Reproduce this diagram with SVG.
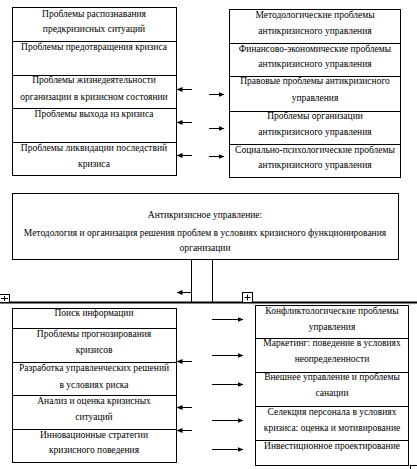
<svg xmlns="http://www.w3.org/2000/svg" width="417" height="469" viewBox="0 0 417 469">
<style>
  .box{fill:#fff;stroke:#000;stroke-width:1}
  .t{font-family:"Liberation Serif","Times New Roman",serif;font-size:9.5px;fill:#000;text-anchor:middle}
  .ln{stroke:#000;stroke-width:1;fill:none}
  .arr{stroke:#000;stroke-width:1;fill:none;marker-end:url(#ah)}
  .thick{stroke:#000;stroke-width:2.2;fill:none}
</style>
<defs>
  <marker id="ah" markerWidth="6" markerHeight="5" refX="5.5" refY="2.5" orient="auto" markerUnits="userSpaceOnUse">
    <path d="M0,0 L6,2.5 L0,5 Z" fill="#000"/>
  </marker>
</defs>
<rect width="417" height="469" fill="#fff"/>

<!-- top-left table -->
<g id="tl1"><rect class="box" x="12.5" y="7.5" width="164" height="34"/><text class="t" x="94" y="17">Проблемы распознавания</text><text class="t" x="94" y="32">предкризисных ситуаций</text></g>
<g id="tl2"><rect class="box" x="12.5" y="41.5" width="164" height="34"/><text class="t" x="94" y="50">Проблемы предотвращения кризиса</text></g>
<g id="tl3"><rect class="box" x="12.5" y="75.5" width="164" height="33"/><text class="t" x="94" y="83">Проблемы жизнедеятельности</text><text class="t" x="94" y="100">организации в кризисном состоянии</text></g>
<g id="tl4"><rect class="box" x="12.5" y="108.5" width="164" height="34"/><text class="t" x="94" y="117">Проблемы выхода из кризиса</text></g>
<g id="tl5"><rect class="box" x="12.5" y="142.5" width="164" height="33"/><text class="t" x="94" y="151">Проблемы ликвидации последствий</text><text class="t" x="94" y="167">кризиса</text></g>

<!-- top-right table -->
<g id="tr1"><rect class="box" x="229.5" y="9.5" width="171" height="34"/><text class="t" x="315" y="18">Методологические проблемы</text><text class="t" x="315" y="34">антикризисного управления</text></g>
<g id="tr2"><rect class="box" x="229.5" y="43.5" width="171" height="33"/><text class="t" x="315" y="52">Финансово-экономические проблемы</text><text class="t" x="315" y="67">антикризисного управления</text></g>
<g id="tr3"><rect class="box" x="229.5" y="76.5" width="171" height="35"/><text class="t" x="315" y="84">Правовые проблемы антикризисного</text><text class="t" x="315" y="101">управления</text></g>
<g id="tr4"><rect class="box" x="229.5" y="111.5" width="171" height="33"/><text class="t" x="315" y="119">Проблемы организации</text><text class="t" x="315" y="135">антикризисного управления</text></g>
<g id="tr5"><rect class="box" x="229.5" y="144.5" width="171" height="33"/><text class="t" x="315" y="153">Социально-психологические проблемы</text><text class="t" x="315" y="168">антикризисного управления</text></g>

<!-- middle box -->
<g id="center"><rect class="box" x="12.5" y="193.5" width="386" height="66"/>
<text class="t" x="205" y="218">Антикризисное управление:</text>
<text class="t" x="205" y="236">Методология и организация решения проблем в условиях кризисного функционирования</text>
<text class="t" x="205" y="251">организации</text></g>

<!-- bottom-left table -->
<g id="bl1"><rect class="box" x="12.5" y="308.5" width="164" height="20"/><text class="t" x="94" y="316">Поиск информации</text></g>
<g id="bl2"><rect class="box" x="12.5" y="328.5" width="164" height="34"/><text class="t" x="94" y="337">Проблемы прогнозирования</text><text class="t" x="94" y="353">кризисов</text></g>
<g id="bl3"><rect class="box" x="12.5" y="362.5" width="164" height="33"/><text class="t" x="94" y="371">Разработка управленческих решений</text><text class="t" x="94" y="388">в условиях риска</text></g>
<g id="bl4"><rect class="box" x="12.5" y="395.5" width="164" height="34"/><text class="t" x="94" y="404">Анализ и оценка кризисных</text><text class="t" x="94" y="420">ситуаций</text></g>
<g id="bl5"><rect class="box" x="12.5" y="429.5" width="164" height="33"/><text class="t" x="94" y="438">Инновационные стратегии</text><text class="t" x="94" y="453">кризисного поведения</text></g>

<!-- bottom-right table -->
<g id="br1"><rect class="box" x="255.5" y="305.5" width="153" height="33"/><text class="t" x="332" y="314">Конфликтологические проблемы</text><text class="t" x="332" y="330">управления</text></g>
<g id="br2"><rect class="box" x="255.5" y="338.5" width="153" height="34"/><text class="t" x="332" y="346">Маркетинг: поведение в условиях</text><text class="t" x="332" y="362">неопределенности</text></g>
<g id="br3"><rect class="box" x="255.5" y="372.5" width="153" height="34"/><text class="t" x="332" y="380">Внешнее управление и проблемы</text><text class="t" x="332" y="396">санации</text></g>
<g id="br4"><rect class="box" x="255.5" y="406.5" width="153" height="34"/><text class="t" x="332" y="415">Селекция персонала в условиях</text><text class="t" x="332" y="431">кризиса: оценка и мотивирование</text></g>
<g id="br5"><rect class="box" x="255.5" y="440.5" width="153" height="25"/><text class="t" x="332" y="449">Инвестиционное проектирование</text></g>

<!-- connectors -->
<g id="connectors">
  <line class="arr" x1="192" y1="89.5" x2="177" y2="89.5"/>
  <line class="arr" x1="192" y1="122.5" x2="177" y2="122.5"/>
  <line class="arr" x1="192" y1="155.5" x2="177" y2="155.5"/>
  <line class="arr" x1="209" y1="94.5" x2="224" y2="94.5"/>
  <line class="arr" x1="209" y1="128.5" x2="224" y2="128.5"/>
  <line class="arr" x1="209" y1="156.5" x2="224" y2="156.5"/>

  <line class="ln" x1="191.5" y1="259.5" x2="191.5" y2="302"/>
  <line class="ln" x1="212.5" y1="259.5" x2="212.5" y2="302"/>
  <line class="arr" x1="191" y1="292.5" x2="177" y2="292.5"/>
  <line class="thick" x1="0" y1="302.5" x2="417" y2="302.5"/>

  <line class="arr" x1="192" y1="361.5" x2="177" y2="361.5"/>
  <line class="arr" x1="192" y1="407.5" x2="177" y2="407.5"/>
  <line class="arr" x1="192" y1="430.5" x2="177" y2="430.5"/>
  <line class="arr" x1="212" y1="319.5" x2="243" y2="319.5"/>
  <line class="arr" x1="212" y1="355.5" x2="243" y2="355.5"/>
  <line class="arr" x1="212" y1="384.5" x2="243" y2="384.5"/>
  <line class="arr" x1="212" y1="420.5" x2="243" y2="420.5"/>
  <line class="arr" x1="212" y1="449.5" x2="243" y2="449.5"/>
</g>

<!-- table handles -->
<g id="handles" stroke="#000" stroke-width="1" fill="#fff">
  <rect x="-1.5" y="294.5" width="11" height="8"/>
  <path d="M1,298.5 H8 M4.5,296 V301" fill="none"/>
  <rect x="242.5" y="292.5" width="10" height="10"/>
  <path d="M244.5,297.5 H250.5 M247.5,294.5 V300.5" fill="none"/>
  <rect x="410.5" y="465.5" width="7" height="6"/>
</g>
</svg>
